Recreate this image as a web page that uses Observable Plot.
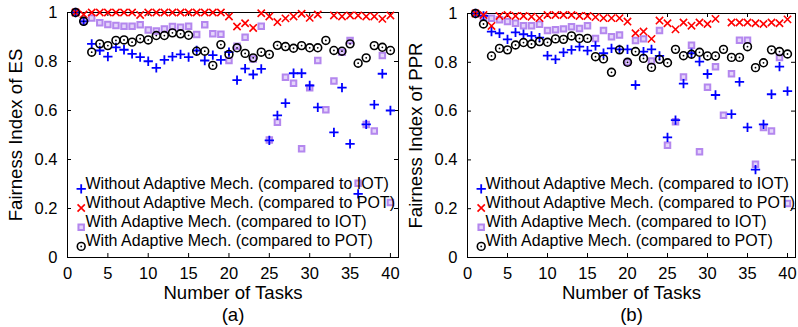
<!DOCTYPE html>
<html><head><meta charset="utf-8">
<script src="https://cdn.jsdelivr.net/npm/d3@7"></script>
<script src="https://cdn.jsdelivr.net/npm/@observablehq/plot@0.6"></script>
<style>
body{margin:0;background:#fff}
#wrap{display:flex;width:798px;height:327px;overflow:hidden}
svg{display:block}
</style>
</head><body><div id="wrap"></div>
<script>
const tasks = [1,2,3,4,5,6,7,8,9,10,11,12,13,14,15,16,17,18,19,20,21,22,23,24,25,26,27,28,29,30,31,32,33,34,35,36,37,38,39,40];
const xTicks = [0,5,10,15,20,25,30,35,40];
const yTicks = [0,0.2,0.4,0.6,0.8,1];
const seriesNames = [
  "Without Adaptive Mech. (compared to IOT)",
  "Without Adaptive Mech. (compared to POT)",
  "With Adaptive Mech. (compared to IOT)",
  "With Adaptive Mech. (compared to POT)"
];

// Panel (a): Fairness Index of ES
const esWithoutIOT = [1.0,0.964,0.872,0.845,0.820,0.858,0.848,0.831,0.818,0.801,0.774,0.807,0.820,0.829,0.818,0.845,0.804,0.826,0.807,0.838,0.724,0.771,0.747,0.770,0.478,0.580,0.630,0.752,0.752,0.702,0.613,null,0.511,0.693,0.464,0.260,0.543,0.624,0.750,0.600];
const esWithoutPOT = [1.0,0.992,1.0,1.0,1.0,1.0,1.0,1.0,0.99,1.0,1.0,1.0,1.0,1.0,1.0,1.0,1.0,1.0,1.0,0.984,0.943,0.956,0.937,0.997,0.984,0.961,0.976,0.984,0.995,0.978,0.992,null,0.988,0.984,0.988,0.988,0.984,0.984,0.974,0.988];
const esWithIOT = [1.0,0.965,0.978,0.958,0.951,0.947,0.944,0.944,0.950,0.929,0.924,0.933,0.943,0.940,0.944,0.910,0.950,0.913,0.911,0.804,0.862,0.899,0.810,0.944,0.480,0.552,0.736,0.711,0.444,0.693,0.804,0.603,0.720,0.838,0.886,0.303,0.543,0.516,0.824,0.224];
const esWithPOT = [1.0,0.964,0.838,0.872,0.865,0.886,0.888,0.879,0.893,0.888,0.906,0.906,0.917,0.913,0.907,0.842,0.842,0.784,0.869,0.829,0.856,0.833,0.815,0.838,0.829,0.866,0.861,0.854,0.865,0.856,0.856,0.886,0.845,0.842,0.872,0.793,0.815,0.865,0.858,0.845];

// Panel (b): Fairness Index of PPR
const pprWithoutIOT = [1.0,0.990,0.926,0.919,0.894,0.923,0.915,0.908,0.901,0.827,0.812,0.841,0.851,0.864,0.848,0.867,0.837,0.857,0.853,0.853,0.707,0.844,0.853,0.826,0.492,0.563,0.713,0.837,0.803,0.752,0.666,null,0.588,0.720,0.533,0.360,0.546,0.669,0.782,0.682];
const pprWithoutPOT = [1.0,0.994,0.949,0.990,0.994,0.990,0.990,0.987,0.981,0.994,0.994,0.994,0.994,0.990,0.990,0.985,0.981,0.981,0.981,0.967,0.919,0.926,0.896,0.971,0.960,0.935,0.963,0.950,0.963,0.957,0.978,null,0.963,0.963,0.963,0.960,0.957,0.963,0.960,0.976];
const pprWithIOT = [1.0,0.985,0.981,0.974,0.967,0.960,0.950,0.950,0.956,0.930,0.933,0.937,0.946,0.939,0.950,0.898,0.930,0.905,0.912,0.800,0.889,0.896,0.805,0.930,0.460,0.556,0.740,0.870,0.433,0.698,0.782,0.583,0.753,0.890,0.890,0.382,0.533,0.518,0.820,0.221];
const pprWithPOT = [1.0,0.957,0.826,0.857,0.851,0.871,0.881,0.875,0.885,0.882,0.896,0.894,0.908,0.898,0.898,0.823,0.814,0.759,0.851,0.800,0.844,0.816,0.779,0.812,0.798,0.853,0.827,0.833,0.841,0.826,0.826,0.853,0.820,0.820,0.864,0.778,0.798,0.851,0.844,0.834];

const FONT = "Liberation Sans, Arial, Helvetica, sans-serif";
const BLUE = "#0000ff", RED = "#ff0000", PURPLE = "#b487ee", PURPLE_FILL = "#e4d4fa";

function rows(arr) {
  return tasks.map((t, i) => ({t, v: arr[i]})).filter(d => d.v != null);
}

function symbolMarks(kind, data, extra) {
  if (kind === 0) return [Plot.dot(data, {...extra, symbol: "plus", r: 3.1, stroke: BLUE, strokeWidth: 1.8})];
  if (kind === 1) return [Plot.dot(data, {...extra, symbol: "times", r: 3.4, stroke: RED, strokeWidth: 1.6})];
  if (kind === 2) return [Plot.dot(data, {...extra, symbol: "square", r: 3.1, stroke: PURPLE, fill: PURPLE_FILL, strokeWidth: 2})];
  return [
    Plot.dot(data, {...extra, symbol: "circle", r: 3.9, stroke: "black", fill: "none", strokeWidth: 1.6}),
    Plot.dot(data, {...extra, symbol: "circle", r: 0.9, fill: "black", stroke: "none"})
  ];
}

function panel({width, marginTop, marginRight, ylabel, caption, series}) {
  const height = 327, marginLeft = 67, marginBottom = 70;
  const W = width - marginLeft - marginRight;
  const H = height - marginTop - marginBottom;
  const tick = 4;
  const order = [2, 0, 1, 3];
  const marks = [
    Plot.tickX(xTicks, {x: d => d, insetTop: H - tick, stroke: "black"}),
    Plot.tickX(xTicks, {x: d => d, insetBottom: H - tick, stroke: "black"}),
    Plot.tickY(yTicks, {y: d => d, insetRight: W - tick, stroke: "black"}),
    Plot.tickY(yTicks, {y: d => d, insetLeft: W - tick, stroke: "black"}),
    Plot.axisX({ticks: xTicks, tickSize: 0, tickPadding: 10, label: null, fontSize: 16.5}),
    Plot.axisY({ticks: yTicks, tickSize: 0, tickPadding: 10, label: null, fontSize: 16.5, tickFormat: d => String(d)}),
    Plot.axisY({ticks: [], tickSize: 0, label: ylabel, labelAnchor: "center", labelOffset: 59, labelArrow: "none", fontSize: 18.6}),
    Plot.frame({stroke: "black", strokeWidth: 1})
  ];
  for (const k of order) {
    marks.push(...symbolMarks(k, rows(series[k]), {x: "t", y: "v"}));
  }
  // legend (inside the plot, lower left)
  seriesNames.forEach((name, i) => {
    const dy = -68.7 + 19.2 * i;
    marks.push(...symbolMarks(i, [name], {frameAnchor: "bottom-left", dx: 13.7, dy}));
    marks.push(Plot.text([name], {frameAnchor: "bottom-left", dx: 18, dy, text: d => d, textAnchor: "start", fontSize: 16, fill: "black"}));
  });
  marks.push(Plot.text(["Number of Tasks"], {frameAnchor: "bottom", dy: 41, text: d => d, fontSize: 18.6, fill: "black"}));
  marks.push(Plot.text([caption], {frameAnchor: "bottom", dy: 63, text: d => d, fontSize: 18.6, fill: "black"}));
  return Plot.plot({
    width, height, marginLeft, marginRight, marginTop, marginBottom,
    style: {fontFamily: FONT, fontSize: "16px", color: "black", overflow: "visible"},
    x: {domain: [0, 41]},
    y: {domain: [0, 1]},
    marks
  });
}

const wrap = document.getElementById("wrap");
wrap.append(panel({width: 400, marginTop: 12, marginRight: 2, ylabel: "Fairness Index of ES", caption: "(a)",
  series: [esWithoutIOT, esWithoutPOT, esWithIOT, esWithPOT]}));
wrap.append(panel({width: 398, marginTop: 13, marginRight: 3, ylabel: "Fairness Index of PPR", caption: "(b)",
  series: [pprWithoutIOT, pprWithoutPOT, pprWithIOT, pprWithPOT]}));
</script>
</body></html>
